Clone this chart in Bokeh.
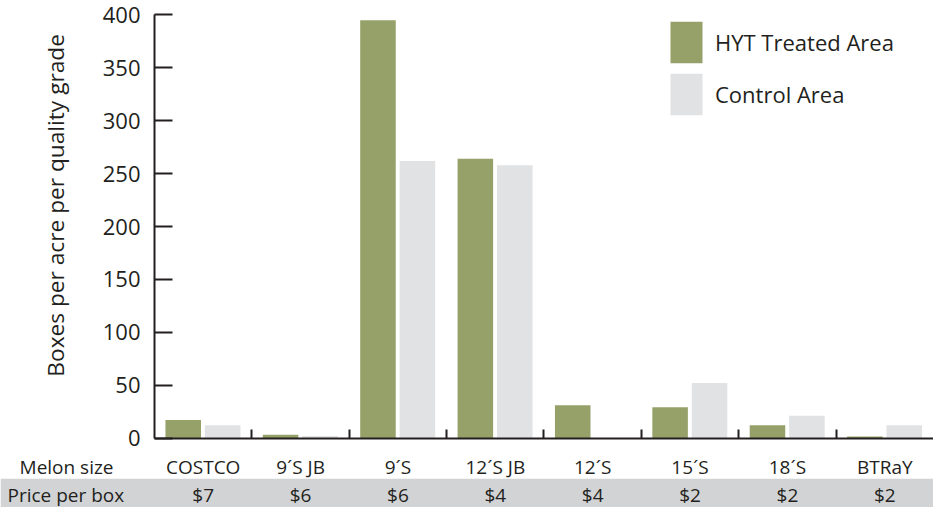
import math

from bokeh.core.properties import value
from bokeh.embed import file_html
from bokeh.models import (BoxAnnotation, ColumnDataSource, FixedTicker, Legend,
                          LegendItem, LinearAxis, Range1d)
from bokeh.plotting import figure
from bokeh.resources import INLINE

# Melon grades, their box prices and yields (boxes per acre)
melon_sizes = ["COSTCO", "9´S JB", "9´S", "12´S JB", "12´S", "15´S", "18´S", "BTRaY"]
prices = ["$7", "$6", "$6", "$4", "$4", "$2", "$2", "$2"]
hyt_treated = [17, 3, 395, 264, 31, 29, 12, 1.5]
control = [12, 2, 262, 258, 0, 52, 21, 12]
y_ticks = [0, 50, 100, 150, 200, 250, 300, 350, 400]

FONT = "Open Sans"
INK = "#231f20"
GREEN = "#95a168"
GREY = "#e1e2e4"
BAND = "#d2d3d5"

W, H = 933, 507
n = len(melon_sizes)
idx = list(range(n))

src = ColumnDataSource(dict(
    slot=idx,
    center=[i + 0.5 for i in idx],
    green_x=[i + 0.295 for i in idx],
    grey_x=[i + 0.70 for i in idx],
    hyt=hyt_treated,
    ctrl=control,
    size=melon_sizes,
    price=prices,
))

p = figure(width=W, height=H, output_backend="svg", toolbar_location=None,
           x_range=Range1d(-1.5815, 8.0), y_range=Range1d(-65.7, 413.7),
           min_border=0, x_axis_type=None, y_axis_type=None)
p.outline_line_color = None
p.xgrid.visible = False
p.ygrid.visible = False
p.background_fill_color = "white"
p.border_fill_color = "white"

# grey band behind the price row
p.add_layout(BoxAnnotation(top=-38.5, fill_color=BAND, fill_alpha=1.0,
                           line_color=None, level="underlay"))

r_hyt = p.vbar(x="green_x", top="hyt", bottom=0, width=0.365, source=src,
               fill_color=GREEN, line_color=None)
r_ctl = p.vbar(x="grey_x", top="ctrl", bottom=0, width=0.365, source=src,
               fill_color=GREY, line_color=None)

# value axis
yax = LinearAxis(fixed_location=0, bounds=(0, 400),
                 ticker=FixedTicker(ticks=y_ticks))
yax.axis_line_color = INK
yax.axis_line_width = 2
yax.major_tick_line_color = INK
yax.major_tick_line_width = 2
yax.major_tick_in = 18
yax.major_tick_out = 0
yax.minor_tick_line_color = None
yax.major_label_standoff = 14
yax.major_label_text_font = FONT
yax.major_label_text_font_size = "22px"
yax.major_label_text_color = INK
p.add_layout(yax, "left")

# category axis: separators between the grades
xax = LinearAxis(fixed_location=0, bounds=(0, 8),
                 ticker=FixedTicker(ticks=list(range(1, n))))
xax.axis_line_color = INK
xax.axis_line_width = 2
xax.major_tick_line_color = INK
xax.major_tick_line_width = 2
xax.major_tick_in = 9
xax.major_tick_out = 0
xax.minor_tick_line_color = None
xax.major_label_text_alpha = 0
xax.major_label_text_font_size = "1px"
p.add_layout(xax, "below")

# table rows under the axis
p.text(x="center", y=-27, text="size", source=src, text_font=value(FONT),
       text_font_size="19px", text_color=INK, text_align="center",
       text_baseline="middle")
p.text(x="center", y=-53.5, text="price", source=src, text_font=value(FONT),
       text_font_size="19px", text_color=INK, text_align="center",
       text_baseline="middle")
p.text(x=[-1.386], y=[-27], text=["Melon size"], text_font=value(FONT),
       text_font_size="19px", text_color=INK, text_align="left",
       text_baseline="middle")
p.text(x=[-1.51], y=[-53.5], text=["Price per box"], text_font=value(FONT),
       text_font_size="19px", text_color=INK, text_align="left",
       text_baseline="middle")

# rotated axis title
p.text(x=[-1.017], y=[220], text=["Boxes per acre per quality grade"],
       angle=math.pi / 2, text_font=value(FONT), text_font_size="22.7px",
       text_color=INK, text_align="center", text_baseline="middle")

legend = Legend(items=[LegendItem(label="HYT Treated Area", renderers=[r_hyt]),
                       LegendItem(label="Control Area", renderers=[r_ctl])],
                location=(666, 387), orientation="vertical")
legend.glyph_width = 40
legend.glyph_height = 52
legend.spacing = 0
legend.padding = 0
legend.margin = 0
legend.label_standoff = 9
legend.label_text_font = FONT
legend.label_text_font_size = "22px"
legend.label_text_color = INK
legend.border_line_color = None
legend.background_fill_alpha = 0
p.add_layout(legend, "center")

open("out.html", "w").write(file_html(p, INLINE))
